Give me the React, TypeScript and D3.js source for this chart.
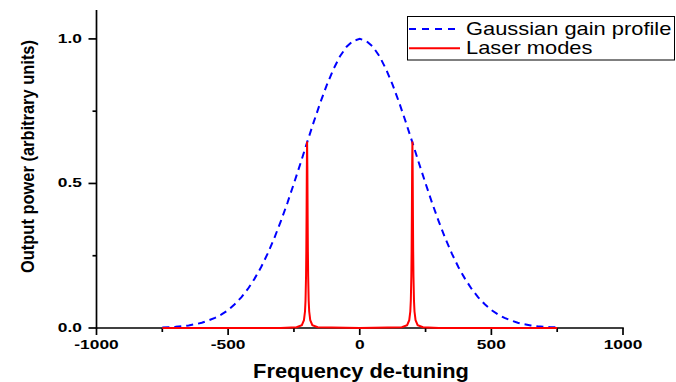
import * as d3 from 'd3';

// Gaussian gain profile (x = detuning, y = power)
const gainX = [-750, -725, -700, -675, -650, -625, -600, -575, -550, -525, -500, -475, -450, -425, -400, -375, -350, -325, -300, -275, -250, -225, -200, -175, -150, -125, -100, -75, -50, -25, 0, 25, 50, 75, 100, 125, 150, 175, 200, 225, 250, 275, 300, 325, 350, 375, 400, 425, 450, 475, 500, 525, 550, 575, 600, 625, 650, 675, 700, 725, 750];
const gainY = [0.002, 0.003, 0.004, 0.006, 0.009, 0.013, 0.018, 0.026, 0.035, 0.047, 0.062, 0.082, 0.106, 0.135, 0.17, 0.21, 0.257, 0.31, 0.369, 0.432, 0.5, 0.57, 0.642, 0.712, 0.779, 0.841, 0.895, 0.94, 0.973, 0.993, 1.0, 0.993, 0.973, 0.94, 0.895, 0.841, 0.779, 0.712, 0.642, 0.57, 0.5, 0.432, 0.369, 0.31, 0.257, 0.21, 0.17, 0.135, 0.106, 0.082, 0.062, 0.047, 0.035, 0.026, 0.018, 0.013, 0.009, 0.006, 0.004, 0.003, 0.002];

// Laser modes: two narrow lines at +-200
const modeX = [-750, -300, -240, -220, -212, -208, -206, -204, -203, -202, -201, -200, -199, -198, -197, -196, -194, -192, -188, -180, -160, 0, 160, 180, 188, 192, 194, 196, 197, 198, 199, 200, 201, 202, 203, 204, 206, 208, 212, 220, 240, 300, 750];
const modeY = [0, 0.0003, 0.0025, 0.01, 0.027, 0.057, 0.095, 0.181, 0.264, 0.393, 0.556, 0.645, 0.556, 0.393, 0.264, 0.181, 0.095, 0.057, 0.027, 0.01, 0.0025, 0.0002, 0.0025, 0.01, 0.027, 0.057, 0.095, 0.181, 0.264, 0.393, 0.556, 0.645, 0.556, 0.393, 0.264, 0.181, 0.095, 0.057, 0.027, 0.01, 0.0025, 0.0003, 0];

const xMajor = [-1000, -500, 0, 500, 1000];
const xMinor = [-750, -250, 250, 750];
const yMajor = [0, 0.5, 1.0];
const yMinor = [0.25, 0.75];

const legendItems = ['Gaussian gain profile', 'Laser modes'];

const W = 676;
const H = 382;
const FONT = '"Liberation Sans", Arial, sans-serif';

export default function App() {
  const x = d3.scaleLinear().domain([-1000, 1000]).range([96.5, 623]);
  const y = d3.scaleLinear().domain([0, 1.1]).range([328, 10]);

  const line = d3
    .line<[number, number]>()
    .x((d) => x(d[0]))
    .y((d) => y(d[1]));

  const gain = gainX.map((v, i) => [v, gainY[i]] as [number, number]);
  const modes = modeX.map((v, i) => [v, modeY[i]] as [number, number]);

  const x0 = x.range()[0];
  const y0 = y.range()[0];
  const sw = 1.7;

  return (
    <svg
      width={W}
      height={H}
      style={{ position: 'absolute', left: 0, top: 0, background: '#fff' }}
      fontFamily={FONT}
    >
      {/* axes */}
      <line x1={x0} x2={x(1000) + 0.8} y1={y0} y2={y0} stroke="#000" strokeWidth={sw} />
      <line x1={x0} x2={x0} y1={y0 + 0.8} y2={y(1.1)} stroke="#000" strokeWidth={sw} />
      {xMajor.map((t) => (
        <g key={'xm' + t}>
          <line x1={x(t)} x2={x(t)} y1={y0} y2={y0 + 7} stroke="#000" strokeWidth={sw} />
          <text
            transform={`translate(${x(t)},348.5) scale(1.45,1)`}
            textAnchor="middle"
            fontSize={12}
            fontWeight="bold"
          >
            {t}
          </text>
        </g>
      ))}
      {xMinor.map((t) => (
        <line key={'xn' + t} x1={x(t)} x2={x(t)} y1={y0} y2={y0 + 4} stroke="#000" strokeWidth={sw} />
      ))}
      {yMajor.map((t) => (
        <g key={'ym' + t}>
          <line x1={x0 - 8} x2={x0} y1={y(t)} y2={y(t)} stroke="#000" strokeWidth={sw} />
          <text
            transform={`translate(82,${y(t) + 4}) scale(1.45,1)`}
            textAnchor="end"
            fontSize={12}
            fontWeight="bold"
          >
            {d3.format('.1f')(t)}
          </text>
        </g>
      ))}
      {yMinor.map((t) => (
        <line key={'yn' + t} x1={x0 - 4} x2={x0} y1={y(t)} y2={y(t)} stroke="#000" strokeWidth={sw} />
      ))}

      {/* axis titles */}
      <text
        transform="translate(361,377.5) scale(1.12,1)"
        textAnchor="middle"
        fontSize={19.5}
        fontWeight="bold"
      >
        Frequency de-tuning
      </text>
      <text
        transform="translate(34,156.5) rotate(-90)"
        textAnchor="middle"
        fontSize={17.5}
        fontWeight="bold"
        textLength={233}
        lengthAdjust="spacingAndGlyphs"
      >
        Output power (arbitrary units)
      </text>

      {/* curves */}
      <path d={line(gain) || ''} fill="none" stroke="#0000ff" strokeWidth={2} strokeDasharray="7,5" />
      <path d={line(modes) || ''} fill="none" stroke="#ff0000" strokeWidth={2} />

      {/* legend */}
      <rect x={407.5} y={16.5} width={267} height={43.5} fill="#fff" stroke="#000" strokeWidth={1} />
      {legendItems.map((name, i) => (
        <g key={name}>
          <line
            x1={409}
            x2={460}
            y1={29 + i * 19.3}
            y2={29 + i * 19.3}
            stroke={i === 0 ? '#0000ff' : '#ff0000'}
            strokeWidth={2}
            strokeDasharray={i === 0 ? '7,6' : undefined}
          />
          <text transform={`translate(466,${35 + i * 18.5}) scale(1.25,1)`} fontSize={17.5}>
            {name}
          </text>
        </g>
      ))}
    </svg>
  );
}
